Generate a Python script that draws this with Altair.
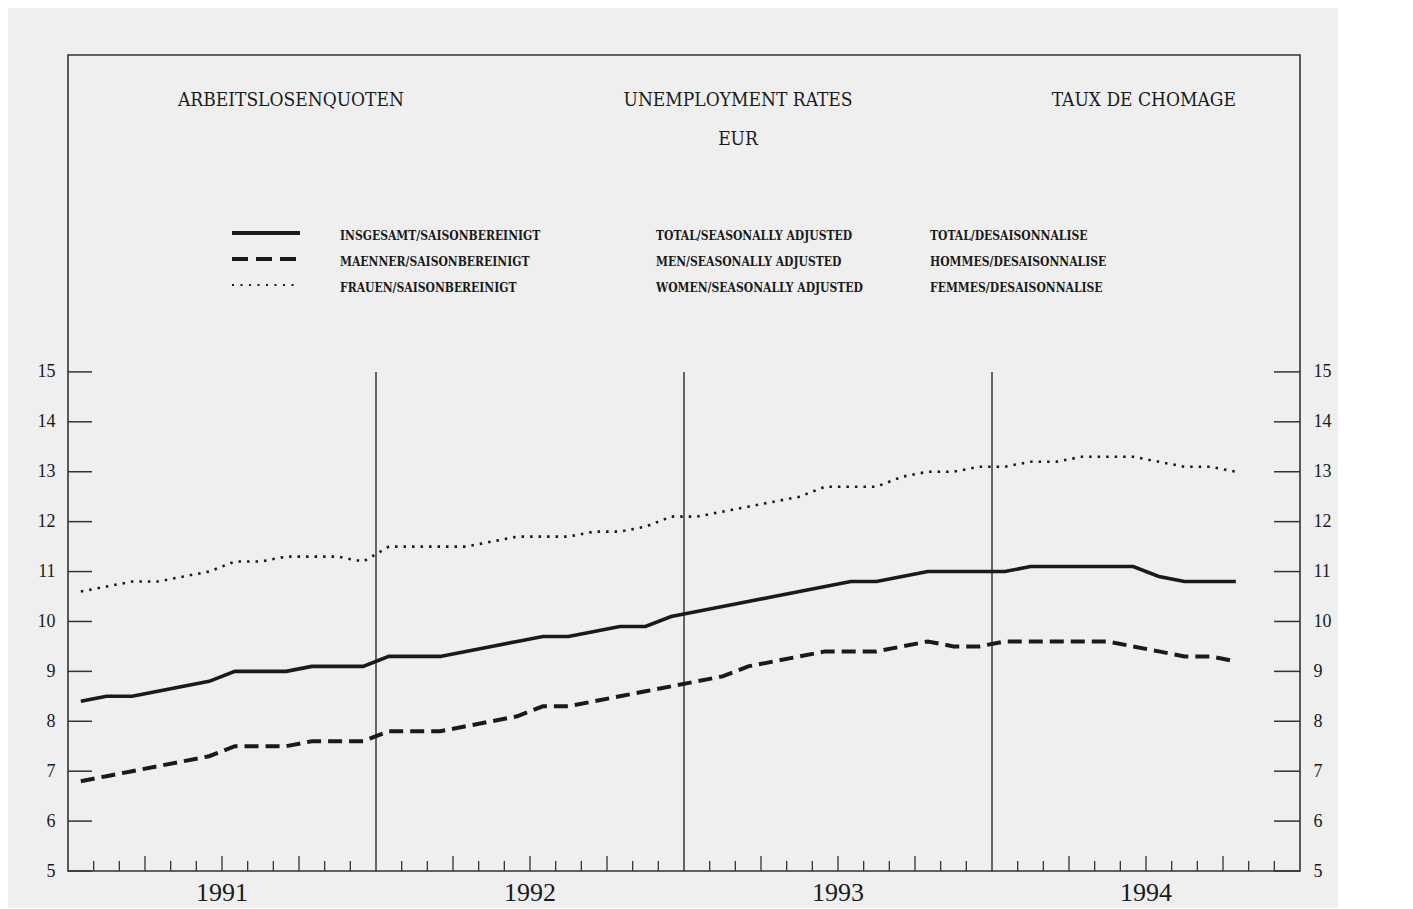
import altair as alt
import pandas as pd

# ---------------- data ----------------
years = ["1991", "1992", "1993", "1994"]
year_boundaries = [12, 24, 36]          # month index where a new year starts
y_tick_values = [5, 6, 7, 8, 9, 10, 11, 12, 13, 14, 15]

# monthly values Jan 1991 .. Oct 1994 (46 months)
total = [8.4, 8.5, 8.5, 8.6, 8.7, 8.8, 9.0, 9.0, 9.0, 9.1, 9.1, 9.1,
         9.3, 9.3, 9.3, 9.4, 9.5, 9.6, 9.7, 9.7, 9.8, 9.9, 9.9, 10.1,
         10.2, 10.3, 10.4, 10.5, 10.6, 10.7, 10.8, 10.8, 10.9, 11.0, 11.0, 11.0,
         11.0, 11.1, 11.1, 11.1, 11.1, 11.1, 10.9, 10.8, 10.8, 10.8]
men = [6.8, 6.9, 7.0, 7.1, 7.2, 7.3, 7.5, 7.5, 7.5, 7.6, 7.6, 7.6,
       7.8, 7.8, 7.8, 7.9, 8.0, 8.1, 8.3, 8.3, 8.4, 8.5, 8.6, 8.7,
       8.8, 8.9, 9.1, 9.2, 9.3, 9.4, 9.4, 9.4, 9.5, 9.6, 9.5, 9.5,
       9.6, 9.6, 9.6, 9.6, 9.6, 9.5, 9.4, 9.3, 9.3, 9.2]
women = [10.6, 10.7, 10.8, 10.8, 10.9, 11.0, 11.2, 11.2, 11.3, 11.3, 11.3, 11.2,
         11.5, 11.5, 11.5, 11.5, 11.6, 11.7, 11.7, 11.7, 11.8, 11.8, 11.9, 12.1,
         12.1, 12.2, 12.3, 12.4, 12.5, 12.7, 12.7, 12.7, 12.9, 13.0, 13.0, 13.1,
         13.1, 13.2, 13.2, 13.3, 13.3, 13.3, 13.2, 13.1, 13.1, 13.0]

title_de = "ARBEITSLOSENQUOTEN"
title_en = "UNEMPLOYMENT RATES"
title_fr = "TAUX DE CHOMAGE"
title_region = "EUR"
legend_de = ["INSGESAMT/SAISONBEREINIGT", "MAENNER/SAISONBEREINIGT", "FRAUEN/SAISONBEREINIGT"]
legend_en = ["TOTAL/SEASONALLY ADJUSTED", "MEN/SEASONALLY ADJUSTED", "WOMEN/SEASONALLY ADJUSTED"]
legend_fr = ["TOTAL/DESAISONNALISE", "HOMMES/DESAISONNALISE", "FEMMES/DESAISONNALISE"]

# ---------------- layout / style ----------------
W, H = 1232, 816
XDOM = [0, 48]
YDOM = [5, 21.35]
INK = "#1a1a1a"
SERIF = "Liberation Serif, serif"
SLAB = "DejaVu Serif Condensed, Liberation Serif, serif"

xs = alt.Scale(domain=XDOM, nice=False, zero=False)
ys = alt.Scale(domain=YDOM, nice=False, zero=False)


def series_df(vals):
    return pd.DataFrame({"m": [i + 0.5 for i in range(len(vals))], "v": vals})


X = alt.X("m:Q", scale=xs, axis=None)
Ynone = alt.Y("v:Q", scale=ys, axis=None)

line_total = alt.Chart(series_df(total)).mark_line(
    color=INK, strokeWidth=3.6).encode(x=X, y=Ynone)
line_men = alt.Chart(series_df(men)).mark_line(
    color=INK, strokeWidth=4, strokeDash=[14, 7], strokeCap="butt").encode(x=X, y=Ynone)
line_women = alt.Chart(series_df(women)).mark_line(
    color=INK, strokeWidth=2.6, strokeDash=[2.5, 6], strokeCap="butt").encode(x=X, y=Ynone)

# year separator lines
year_lines = alt.Chart(pd.DataFrame({"m": year_boundaries, "y0": [5] * 3, "y1": [15] * 3})).mark_rule(
    color=INK, strokeWidth=1.3).encode(x=X, y=alt.Y("y0:Q", scale=ys, axis=None), y2="y1:Q")

# month ticks along the bottom
month_idx = [k for k in range(1, 48) if k % 12 != 0]
minor = [k for k in month_idx if k % 3 != 0]
quarter = [k for k in month_idx if k % 3 == 0]
ticks_minor = alt.Chart(pd.DataFrame({"m": minor})).mark_rule(color="#333", strokeWidth=1.3).encode(
    x=X, y=alt.value(H), y2=alt.value(H - 10))
ticks_quarter = alt.Chart(pd.DataFrame({"m": quarter})).mark_rule(color="#333", strokeWidth=1.3).encode(
    x=X, y=alt.value(H), y2=alt.value(H - 15))

# year labels
year_labels = alt.Chart(pd.DataFrame({"m": [6, 18, 30, 42], "t": years})).mark_text(
    font=SERIF, fontSize=26, color=INK, baseline="middle").encode(
    x=X, y=alt.value(H + 22), text="t:N")

# y ticks (inward) with labels on both sides
yt = pd.DataFrame({"v": y_tick_values})
axis_common = dict(values=y_tick_values, ticks=False, domain=False, grid=False,
                   labelFont=SERIF, labelFontSize=18, labelColor=INK, labelPadding=13,
                   title=None)
left_ticks = alt.Chart(yt).mark_rule(color="#333", strokeWidth=1.5).encode(
    y=alt.Y("v:Q", scale=ys, axis=alt.Axis(orient="left", **axis_common)),
    x=alt.value(0), x2=alt.value(24))
right_ticks = alt.Chart(yt).mark_rule(color="#333", strokeWidth=1.5).encode(
    y=alt.Y("v:Q", scale=ys, axis=alt.Axis(orient="right", **axis_common)),
    x=alt.value(W - 26), x2=alt.value(W))


def label(txt, x, y, size, align="left", weight="normal", font=SLAB):
    return alt.Chart(pd.DataFrame({"t": [txt]})).mark_text(
        font=font, fontSize=size, fontWeight=weight, color=INK, align=align, baseline="middle"
    ).encode(x=alt.value(x), y=alt.value(y), text="t:N")


texts = [
    label(title_de, 110, 45, 19),
    label(title_en, 670, 45, 19, align="center"),
    label(title_fr, 1168, 45, 19, align="right"),
    label(title_region, 670, 84, 19, align="center"),
]
leg_y = [181, 207, 233]
for i in range(3):
    texts.append(label(legend_de[i], 272, leg_y[i], 12, weight="bold"))
    texts.append(label(legend_en[i], 588, leg_y[i], 12, weight="bold"))
    texts.append(label(legend_fr[i], 862, leg_y[i], 12, weight="bold"))

legend_samples = [
    alt.Chart(pd.DataFrame({"a": [0]})).mark_rule(color=INK, strokeWidth=4).encode(
        x=alt.value(164), x2=alt.value(232), y=alt.value(178)),
    alt.Chart(pd.DataFrame({"a": [0]})).mark_rule(color=INK, strokeWidth=4, strokeDash=[16, 8],
                                                   strokeCap="butt").encode(
        x=alt.value(164), x2=alt.value(230), y=alt.value(204)),
    alt.Chart(pd.DataFrame({"a": [0]})).mark_rule(color=INK, strokeWidth=2, strokeDash=[2, 6.5],
                                                   strokeCap="butt").encode(
        x=alt.value(164), x2=alt.value(232), y=alt.value(230)),
]

chart = alt.layer(
    left_ticks, right_ticks, year_lines, ticks_minor, ticks_quarter, year_labels,
    line_women, line_total, line_men, *legend_samples, *texts
).resolve_scale(y="independent").resolve_axis(y="independent").properties(
    width=W, height=H,
    autosize=alt.AutoSizeParams(type="none"),
    padding={"left": 60, "top": 47, "right": 38, "bottom": 37},
    background="#efefef",
).configure_view(stroke="#333", strokeWidth=1.6)

chart.save("out.html", embed_options={"renderer": "svg", "actions": False})
